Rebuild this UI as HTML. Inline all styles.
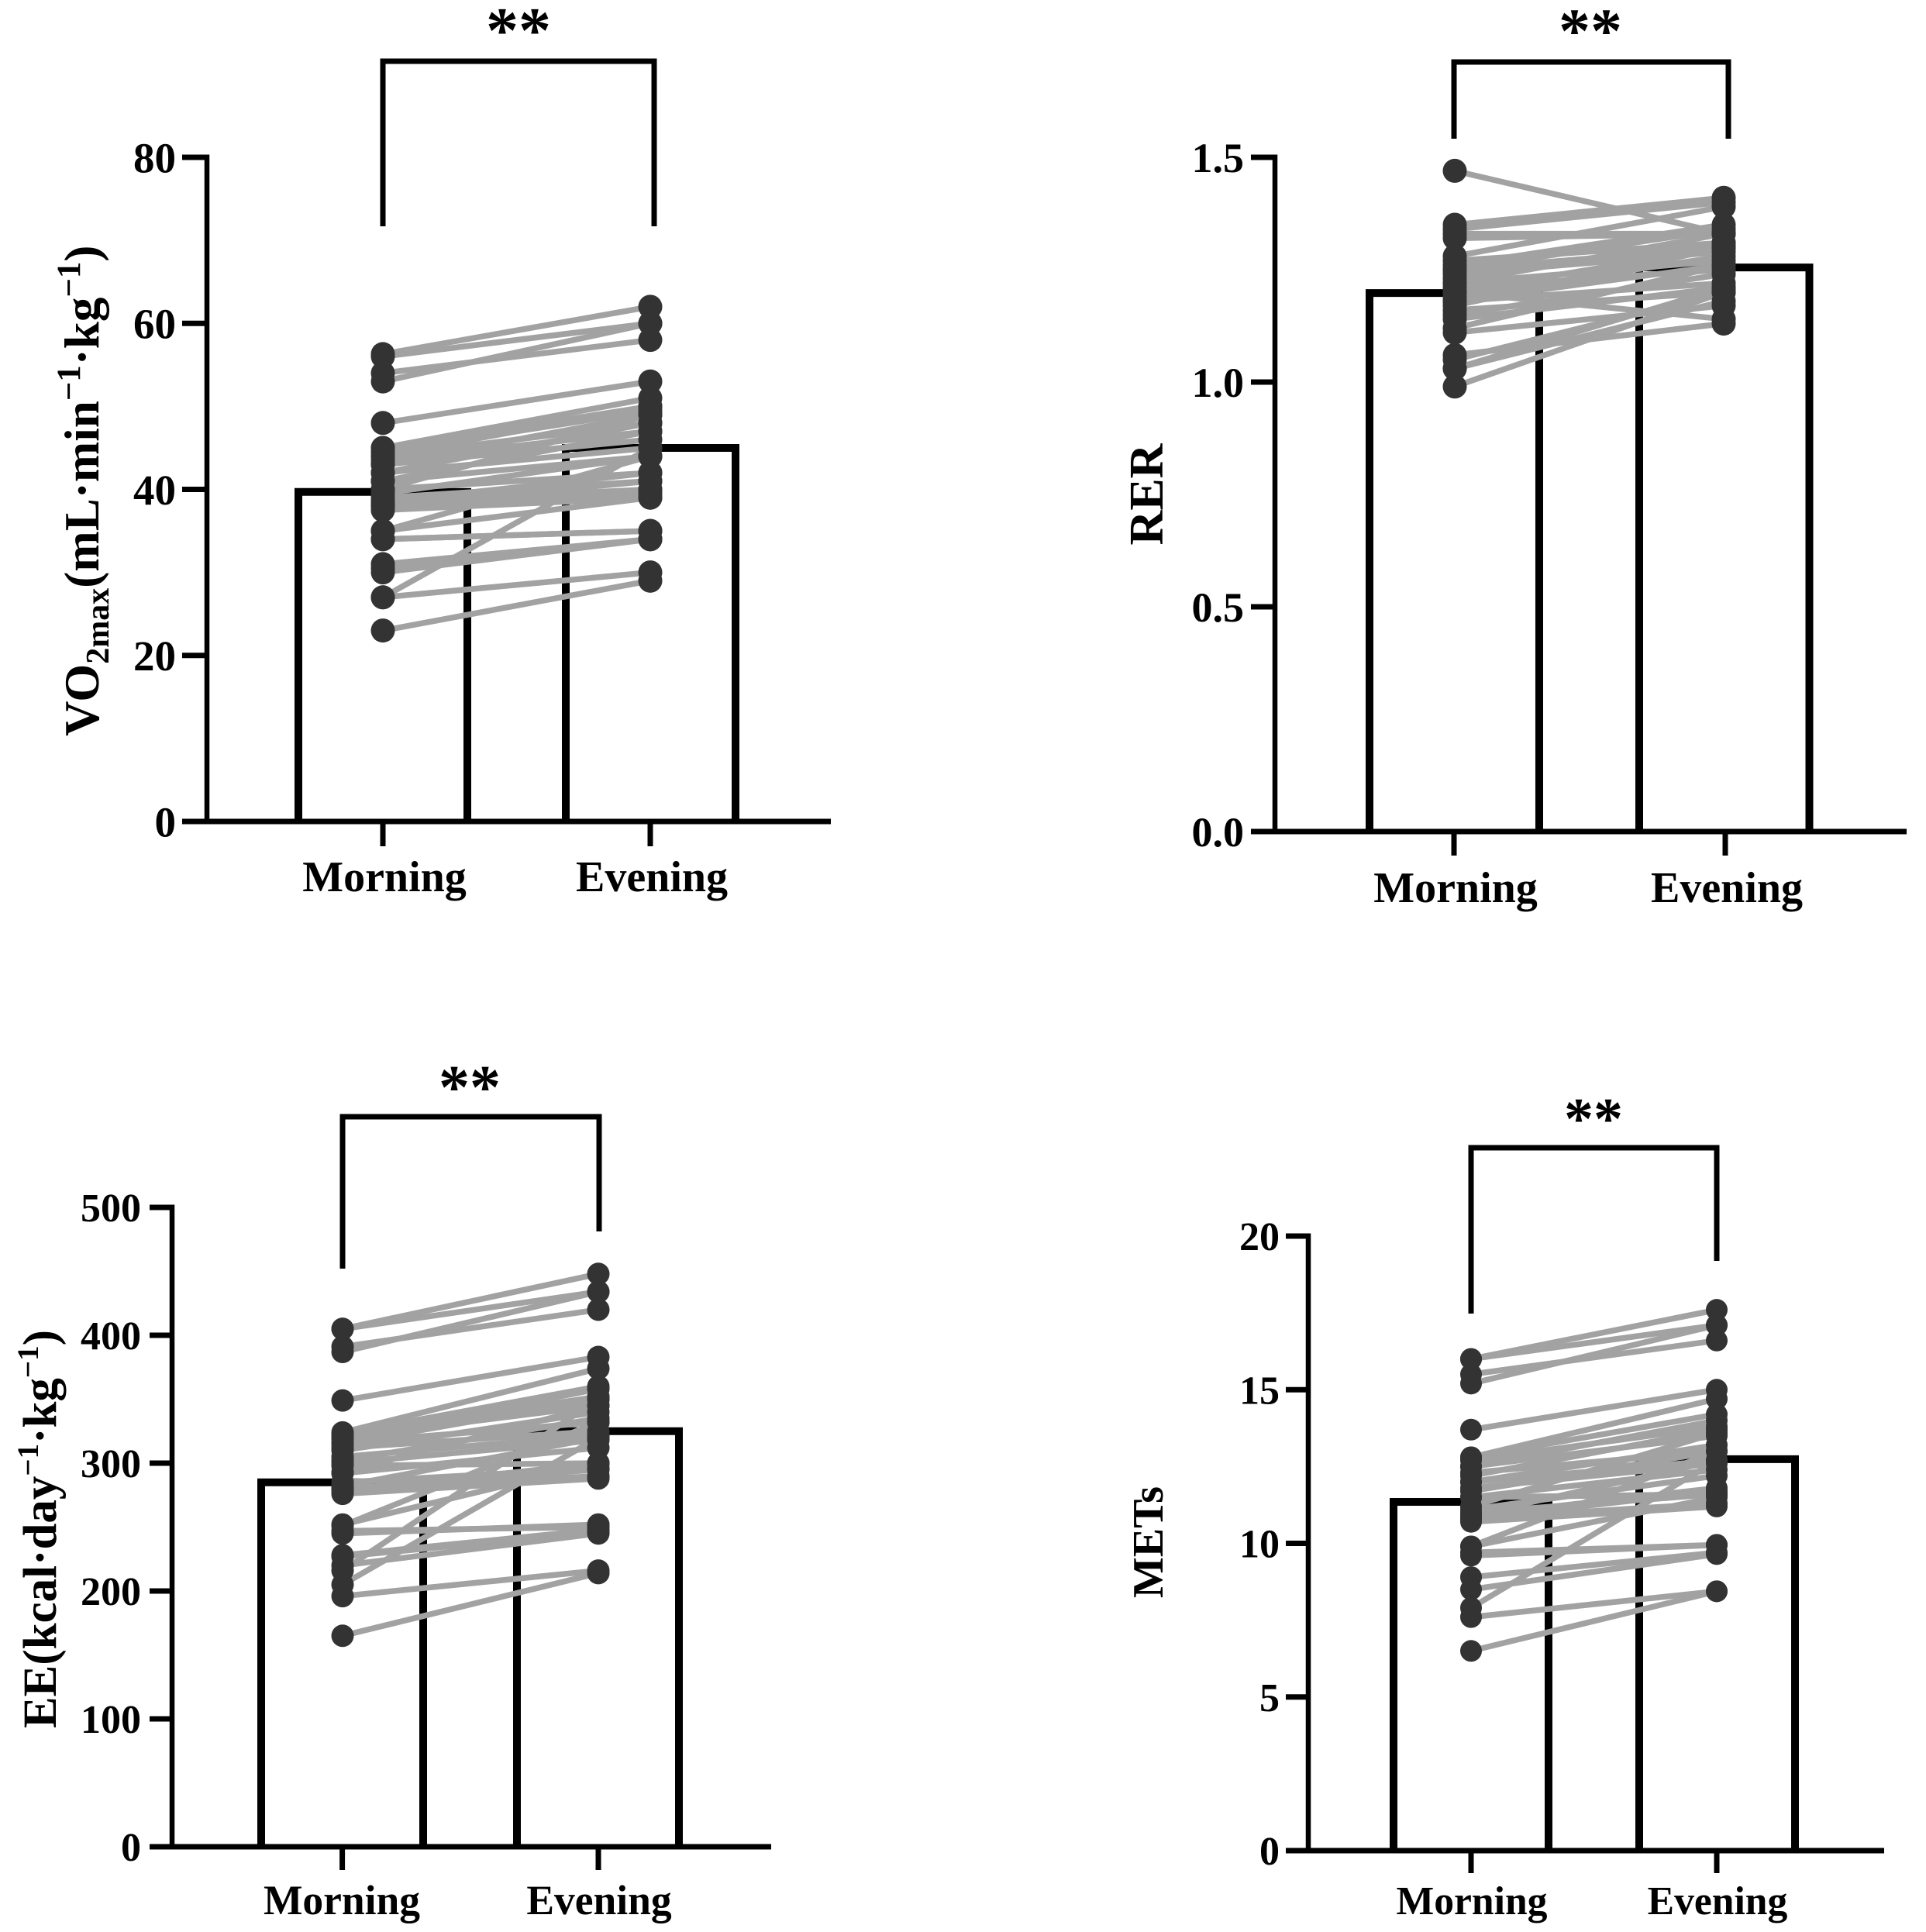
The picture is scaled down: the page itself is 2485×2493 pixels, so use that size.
<!DOCTYPE html>
<html lang="en">
<head>
<meta charset="utf-8">
<title>Morning vs Evening exercise metrics</title>
<style>
html,body{margin:0;padding:0;background:#fff;}
body{width:2485px;height:2493px;overflow:hidden;}
svg{display:block;}
text{font-family:"Liberation Serif",serif;font-weight:bold;fill:#000;}
</style>
</head>
<body>
<svg id="figure" xmlns="http://www.w3.org/2000/svg" width="2485" height="2493" viewBox="0 0 2485 2493">
  <rect width="2485" height="2493" fill="#fff"/>
  <text transform="translate(127,950) rotate(-90)" font-size="63">VO<tspan font-size="42" dy="13">2max</tspan><tspan dy="-13">(mL·min</tspan><tspan font-size="43" dy="-24">−1</tspan><tspan dy="24">·kg</tspan><tspan font-size="43" dy="-24">−1</tspan><tspan dy="24">)</tspan></text>
  <text transform="translate(1500,638) rotate(-90)" font-size="62" text-anchor="middle">RER</text>
  <text transform="translate(72,2230) rotate(-90)" font-size="61">EE(kcal·day<tspan font-size="39" dy="-23">−1</tspan><tspan dy="23">·kg</tspan><tspan font-size="39" dy="-23">−1</tspan><tspan dy="23">)</tspan></text>
  <text transform="translate(1500,1990) rotate(-90)" font-size="56" text-anchor="middle">METs</text>
</svg>
<script>
const categories = ['Morning', 'Evening'];

const vo2Ticks = [0, 20, 40, 60, 80];
const vo2Means = [39.7, 45];
const vo2Morning = [56.3, 56, 54, 53, 48, 45, 45, 44.5, 44, 44, 43.5, 43, 43, 42, 42, 41, 41, 40, 40, 39.5, 39, 38.5, 38.5, 38, 38, 38, 37.5, 35, 35, 34, 34, 31, 30.5, 30, 27, 27, 23];
const vo2Evening = [62, 60, 58, 60, 53, 51, 50, 49.5, 50, 48, 47, 49, 46, 48, 45, 47, 44, 42, 49, 44, 41, 42, 40, 41, 40, 39.5, 39, 44, 39, 35, 35, 34, 34, 34, 45, 30, 29];

const rerTicks = ['0.0', '0.5', '1.0', '1.5'];
const rerMeans = [1.198, 1.255];
const rerMorning = [1.47, 1.35, 1.34, 1.33, 1.32, 1.28, 1.27, 1.26, 1.25, 1.25, 1.24, 1.23, 1.22, 1.22, 1.21, 1.2, 1.2, 1.19, 1.18, 1.18, 1.17, 1.16, 1.15, 1.14, 1.12, 1.11, 1.06, 1.05, 1.03, 1.03, 0.99];
const rerEvening = [1.33, 1.41, 1.4, 1.33, 1.33, 1.39, 1.31, 1.35, 1.3, 1.34, 1.29, 1.31, 1.27, 1.33, 1.25, 1.3, 1.14, 1.28, 1.22, 1.26, 1.3, 1.2, 1.24, 1.21, 1.26, 1.17, 1.13, 1.2, 1.21, 1.18, 1.2];

const eeTicks = [0, 100, 200, 300, 400, 500];
const eeMeans = [285, 325];
const eeMorning = [405, 405, 391, 387, 349, 324, 323, 322, 320, 319, 316, 315, 312, 310, 305, 302, 300, 298, 293, 292, 285, 282, 280, 279, 278, 276, 252, 251, 247, 245, 228, 227, 220, 216, 205, 196, 165];
const eeEvening = [448, 434, 420, 434, 383, 374, 360, 352, 345, 358, 332, 350, 325, 340, 322, 335, 318, 300, 345, 312, 296, 320, 295, 290, 300, 288, 300, 332, 250, 252, 248, 246, 245, 350, 320, 216, 214];

const metsTicks = [0, 5, 10, 15, 20];
const metsMeans = [11.35, 12.74];
const metsMorning = [16, 16, 15.5, 15.2, 13.7, 12.8, 12.8, 12.7, 12.5, 12.5, 12.3, 12.2, 12, 12, 11.8, 11.7, 11.5, 11.5, 11.2, 11.1, 11, 10.9, 10.9, 10.8, 10.8, 10.7, 9.9, 9.9, 9.7, 9.6, 8.9, 8.5, 7.9, 7.6, 6.5];
const metsEvening = [17.6, 17.1, 16.6, 17.1, 15, 14.7, 14.2, 13.8, 13.5, 14, 13, 13.7, 12.7, 13.2, 12.6, 13, 12.4, 11.6, 13.6, 12.2, 11.6, 12.7, 11.8, 11.3, 11.7, 11.2, 11.5, 13, 9.95, 9.95, 9.7, 9.65, 12.7, 8.44, 8.44];

const NS = 'http://www.w3.org/2000/svg';
const figure = document.getElementById('figure');

function make(parent, tag, attrs, text) {
  const el = document.createElementNS(NS, tag);
  for (const k in attrs) el.setAttribute(k, attrs[k]);
  if (text !== undefined) el.textContent = text;
  parent.appendChild(el);
  return el;
}

function drawPanel(p) {
  const g = make(figure, 'g', {});
  
  
  const maxTick = Number(p.ticks[p.ticks.length - 1]);
  const y = v => p.y0 - (v / maxTick) * (p.y0 - p.yTop);

  // bars
  p.means.forEach((m, i) => {
    const b = p.bars[i];
    const bar = make(g, 'path', {
      d: 'M' + b[0] + ' ' + p.y0 + 'V' + y(m) + 'H' + b[1] + 'V' + p.y0,
      fill: 'none', stroke: '#000', 'stroke-width': 10
    });
    
    
  });

  // y axis
  const yAxis = make(g, 'line', {x1: p.x0, x2: p.x0, y1: p.yTop - 3.5, y2: p.y0 + 3.5, stroke: '#000', 'stroke-width': 6.5});
  
  

  // x axis
  const xAxis = make(g, 'line', {x1: p.tickLeft, x2: p.xEnd, y1: p.y0, y2: p.y0, stroke: '#000', 'stroke-width': 7});
  
  

  // y ticks
  p.ticks.forEach(t => {
    const ty = y(Number(t));
    const tick = make(g, 'line', {x1: p.tickLeft, x2: p.x0, y1: ty, y2: ty, stroke: '#000', 'stroke-width': 7});
    
    
    const label = make(g, 'text', {x: p.labelRight, y: ty + p.tickFont * 0.35, 'font-size': p.tickFont, 'text-anchor': 'end'}, String(t));
    
    
  });

  // x ticks and labels
  categories.forEach((c, i) => {
    const tick = make(g, 'line', {x1: p.tickX[i], x2: p.tickX[i], y1: p.y0, y2: p.tickBottom, stroke: '#000', 'stroke-width': 7});
    
    
    const label = make(g, 'text', {x: p.labelX[i], y: p.catBaseline, 'font-size': p.catFont, 'text-anchor': 'middle'}, c);
    
    
  });

  // paired lines
  p.morning.forEach((m, i) => {
    const ln = make(g, 'line', {x1: p.dotX[0], y1: y(m), x2: p.dotX[1], y2: y(p.evening[i]), stroke: '#a2a2a2', 'stroke-width': 7.5});
    
    
  });

  // points
  [p.morning, p.evening].forEach((series, s) => {
    series.forEach(v => {
      const dot = make(g, 'circle', {cx: p.dotX[s], cy: y(v), r: p.r, fill: '#333'});
      
      
    });
  });

  // significance bracket
  const br = p.bracket;
  const bracket = make(g, 'path', {
    d: 'M' + br.left + ' ' + br.leftBottom + 'V' + br.top + 'H' + br.right + 'V' + br.rightBottom,
    fill: 'none', stroke: '#000', 'stroke-width': 7
  });
  
  
  const stars = make(g, 'text', {x: br.starX, y: br.starY, 'font-size': br.starFont, 'text-anchor': 'middle'}, '**');
  
  
}

drawPanel({
  name: 'vo2max', ticks: vo2Ticks, means: vo2Means, morning: vo2Morning, evening: vo2Evening,
  x0: 267, xEnd: 1072, y0: 1060, yTop: 203, tickLeft: 235, labelRight: 227, tickFont: 55,
  bars: [[385, 603], [730, 949]], tickX: [494, 839], labelX: [496, 841], dotX: [494, 839], r: 15.5,
  tickBottom: 1092, catBaseline: 1150, catFont: 56,
  bracket: {left: 494, right: 844, top: 79, leftBottom: 292, rightBottom: 292, starX: 669, starY: 67, starFont: 84}
});
drawPanel({
  name: 'rer', ticks: rerTicks, means: rerMeans, morning: rerMorning, evening: rerEvening,
  x0: 1645, xEnd: 2460, y0: 1073, yTop: 203, tickLeft: 1614, labelRight: 1605, tickFont: 54,
  bars: [[1767, 1986], [2115, 2334.5]], tickX: [1876, 2226], labelX: [1878, 2228], dotX: [1877, 2224], r: 15.5,
  tickBottom: 1104, catBaseline: 1164, catFont: 56,
  bracket: {left: 1876, right: 2230, top: 80, leftBottom: 179, rightBottom: 179, starX: 2052, starY: 67, starFont: 82}
});
drawPanel({
  name: 'ee', ticks: eeTicks, means: eeMeans, morning: eeMorning, evening: eeEvening,
  x0: 222, xEnd: 995, y0: 2383, yTop: 1558, tickLeft: 193, labelRight: 182, tickFont: 52,
  bars: [[337, 546], [667, 876]], tickX: [441.6, 772], labelX: [441, 773], dotX: [442, 772], r: 14.5,
  tickBottom: 2413, catBaseline: 2470, catFont: 53.5,
  bracket: {left: 442, right: 773, top: 1441, leftBottom: 1637, rightBottom: 1589, starX: 606, starY: 1430, starFont: 80}
});
drawPanel({
  name: 'mets', ticks: metsTicks, means: metsMeans, morning: metsMorning, evening: metsEvening,
  x0: 1688, xEnd: 2431, y0: 2388, yTop: 1595, tickLeft: 1659, labelRight: 1651, tickFont: 52,
  bars: [[1798, 1998], [2115, 2316]], tickX: [1898, 2215], labelX: [1899, 2216], dotX: [1898, 2215], r: 14,
  tickBottom: 2417, catBaseline: 2470, catFont: 51.6,
  bracket: {left: 1898, right: 2215, top: 1481, leftBottom: 1695, rightBottom: 1627, starX: 2056, starY: 1469, starFont: 76}
});
</script>
</body>
</html>
